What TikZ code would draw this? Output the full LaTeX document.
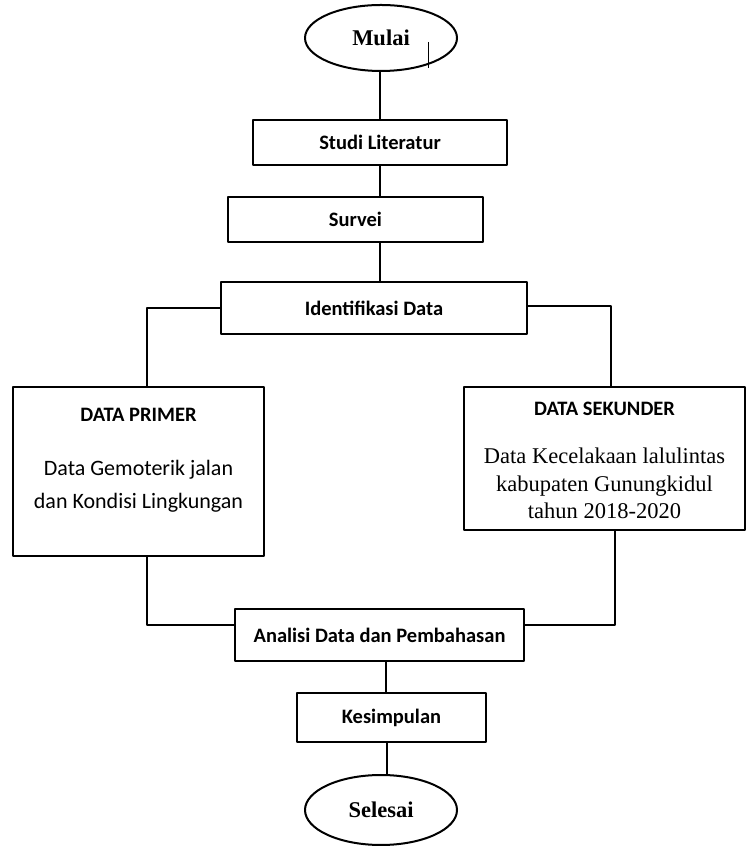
\documentclass[tikz,border=0pt]{standalone}
\usepackage{fontspec}
\setmainfont{Liberation Serif}
\newfontfamily\calibri{Carlito}
\usetikzlibrary{shapes.geometric}
\begin{document}
\begin{tikzpicture}[x=1pt,y=1pt, line width=2pt, line join=round,
	oval/.style={draw, ellipse, inner sep=0pt, minimum width=152, minimum height=66, font=\fontsize{22.5}{26}\selectfont\bfseries},
	stepbox/.style={draw, inner sep=0pt, font=\calibri\fontsize{20.5}{24}\selectfont\bfseries},
	head/.style={anchor=base, inner sep=0pt, font=\calibri\fontsize{20.5}{24}\selectfont\bfseries},
	bodyc/.style={anchor=base, inner sep=0pt, align=center, font=\calibri\fontsize{22}{33}\selectfont},
	bodyt/.style={anchor=base, inner sep=0pt, align=center, font=\fontsize{22.5}{27.5}\selectfont}]
	\useasboundingbox (0,0) rectangle (746,848);
	% Node
	\node[oval] (mulai) at (381,810) {Mulai};
	\node[stepbox, minimum width=254, minimum height=45] (studi) at (380,705.5) {Studi Literatur};
	\node[stepbox, minimum width=255, minimum height=45] (survei) at (355.5,628.5) {Survei};
	\node[stepbox, minimum width=306, minimum height=52] (ident) at (374,540) {Identifikasi Data};
	\node[draw, minimum width=251, minimum height=169] (prim) at (138.5,376.5) {};
	\node[head] (primT) at ([yshift=-36]prim.north) {DATA PRIMER};
	\node[bodyc] (primB) at ([yshift=-123]prim.north) {Data Gemoterik jalan\\dan Kondisi Lingkungan};
	\node[draw, minimum width=281, minimum height=143] (sek) at (604.5,389.5) {};
	\node[head] (sekT) at ([yshift=-30]sek.north) {DATA SEKUNDER};
	\node[bodyt] (sekB) at ([yshift=-133]sek.north) {Data Kecelakaan lalulintas\\kabupaten Gunungkidul\\tahun 2018-2020};
	\node[stepbox, minimum width=289, minimum height=52] (anal) at (379.5,213) {Analisi Data dan Pembahasan};
	\node[stepbox, minimum width=189, minimum height=49] (kes) at (391.5,130.5) {Kesimpulan};
	\node[oval, minimum height=70] (selesai) at (381,38) {Selesai};
	% Garis
	\draw[line width=1pt] ([xshift=47,yshift=-4]mulai.center) -- ([xshift=47,yshift=-30]mulai.center);
	\draw (mulai.south -| studi.north) -- (studi.north);
	\draw (studi.south) -- (studi.south |- survei.north);
	\draw (studi.south |- survei.south) -- (studi.south |- ident.north);
	\draw (ident.west) -| ([xshift=8]prim.north);
	\draw ([yshift=2]ident.east) -- ([xshift=6,yshift=2]sek.north |- ident.east) -- ([xshift=6]sek.north);
	\draw ([xshift=8]prim.south) |- ([yshift=10]anal.west);
	\draw ([xshift=10]sek.south) |- ([yshift=10]anal.east);
	\draw ([xshift=6]anal.south) -- ([xshift=6]anal.south |- kes.north);
	\draw ([xshift=-5]kes.south) -- ([xshift=-5]kes.south |- selesai.north);
\end{tikzpicture}
\end{document}
